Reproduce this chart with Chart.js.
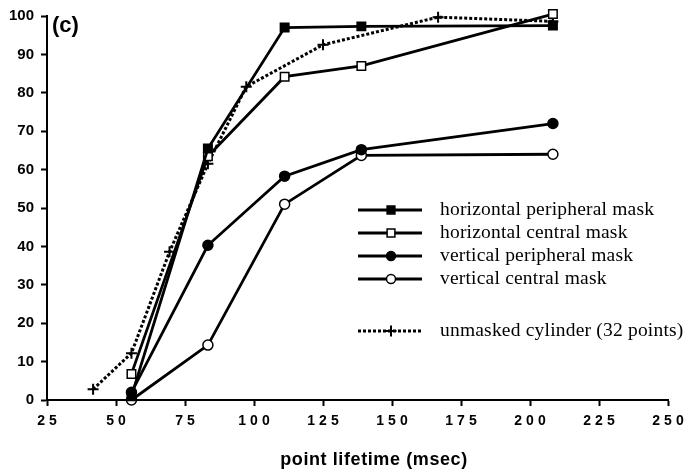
<!DOCTYPE html>
<html>
<head>
<meta charset="utf-8">
<script src="https://cdn.jsdelivr.net/npm/chart.js@4.4.1/dist/chart.umd.min.js"></script>
<style>
  html, body { margin: 0; padding: 0; background: #fff; }
  #wrap { width: 692px; height: 475px; }
</style>
</head>
<body>
<div id="wrap"><canvas id="chart" width="692" height="475"></canvas></div>
<script>
// point lifetimes (msec) for the masked conditions
const lifetimes = [55.6, 83.3, 111.1, 138.9, 208.3];
const horizPeripheral = [1, 65.5, 97, 97.3, 97.5];
const horizCentral = [6.8, 63.5, 84.2, 87, 100.5];
const vertPeripheral = [2, 40.3, 58.3, 65.2, 72];
const vertCentral = [0, 14.3, 51, 63.7, 64];

// unmasked cylinder was sampled at more lifetimes
const unmaskedLifetimes = [41.7, 55.6, 69.4, 83.3, 97.2, 125, 166.7, 208.3];
const unmasked = [2.8, 12.2, 38.6, 61.5, 81.6, 92.5, 99.7, 98.6];

const xTicks = [25, 50, 75, 100, 125, 150, 175, 200, 225, 250];
const legendLabels = [
    "horizontal peripheral mask",
    "horizontal central mask",
    "vertical peripheral mask",
    "vertical central mask",
    "unmasked cylinder (32 points)"
];

function toPoints(xs, ys) {
    return xs.map((x, i) => ({ x: x, y: ys[i] }));
}

const solid = {
    borderColor: "#000",
    borderWidth: 2.8,
    pointBorderColor: "#000",
    pointBorderWidth: 1.5,
    tension: 0,
    clip: false
};

const datasets = [
    Object.assign({}, solid, {
        label: legendLabels[0],
        data: toPoints(lifetimes, horizPeripheral),
        pointStyle: "rect", pointRadius: 6, pointBackgroundColor: "#000"
    }),
    Object.assign({}, solid, {
        label: legendLabels[1],
        data: toPoints(lifetimes, horizCentral),
        pointStyle: "rect", pointRadius: 6, pointBackgroundColor: "#fff"
    }),
    Object.assign({}, solid, {
        label: legendLabels[2],
        data: toPoints(lifetimes, vertPeripheral),
        pointStyle: "circle", pointRadius: 5, pointBackgroundColor: "#000"
    }),
    Object.assign({}, solid, {
        label: legendLabels[3],
        data: toPoints(lifetimes, vertCentral),
        pointStyle: "circle", pointRadius: 5, pointBackgroundColor: "#fff"
    }),
    Object.assign({}, solid, {
        label: legendLabels[4],
        data: toPoints(unmaskedLifetimes, unmasked),
        borderDash: [3, 2],
        borderWidth: 3,
        pointStyle: "cross", pointRadius: 5.5, pointBorderWidth: 2, pointBackgroundColor: "#000"
    })
];

// legend, panel letter, x tick labels and x title drawn by hand
const extras = {
    id: "extras",
    afterDraw(chart) {
        const ctx = chart.ctx;
        const xs = chart.scales.x;
        const bottom = chart.chartArea.bottom;

        ctx.save();
        ctx.fillStyle = "#000";
        ctx.textBaseline = "middle";

        // x tick labels with wide tracking
        ctx.font = "bold 14px 'Liberation Sans', Arial, sans-serif";
        ctx.letterSpacing = "4px";
        xTicks.forEach(v => {
            const s = String(v);
            const w = ctx.measureText(s).width - 4;
            ctx.textAlign = "left";
            ctx.fillText(s, xs.getPixelForValue(v) - w / 2, bottom + 21);
        });

        ctx.font = "bold 18px 'Liberation Sans', Arial, sans-serif";
        ctx.letterSpacing = "0.6px";
        ctx.textAlign = "center";
        ctx.fillText("point lifetime (msec)", 374, 460);
        ctx.letterSpacing = "0px";

        ctx.font = "bold 22px 'Liberation Sans', Arial, sans-serif";
        ctx.textAlign = "left";
        ctx.fillText("(c)", 52, 26);

        // legend rows
        const rowY = [210, 233, 256, 279, 331];
        ctx.font = "19.5px 'Liberation Serif', 'Times New Roman', serif";
        ctx.letterSpacing = "0.2px";
        chart.data.datasets.forEach((ds, i) => {
            const y = rowY[i];
            ctx.save();
            ctx.strokeStyle = "#000";
            ctx.lineWidth = ds.borderWidth;
            ctx.setLineDash(ds.borderDash || []);
            ctx.beginPath();
            ctx.moveTo(358, y);
            ctx.lineTo(422, y);
            ctx.stroke();
            ctx.restore();

            ctx.save();
            ctx.fillStyle = ds.pointBackgroundColor;
            ctx.strokeStyle = "#000";
            ctx.lineWidth = ds.pointBorderWidth;
            Chart.helpers.drawPoint(ctx, {
                pointStyle: ds.pointStyle,
                radius: ds.pointStyle === "cross" ? 5.5 : ds.pointStyle === "rect" ? 5.5 : 4.5,
                rotation: 0,
                borderWidth: ds.pointBorderWidth
            }, 391, y);
            ctx.restore();

            ctx.textAlign = "left";
            ctx.fillText(ds.label, 440, y);
        });
        ctx.restore();
    }
};

new Chart(document.getElementById("chart"), {
    type: "line",
    data: { datasets: datasets },
    options: {
        responsive: false,
        animation: false,
        layout: { padding: { left: 0, top: 14, right: 24, bottom: 0 } },
        plugins: {
            legend: { display: false },
            tooltip: { enabled: false }
        },
        scales: {
            x: {
                type: "linear",
                min: 25,
                max: 250,
                afterBuildTicks(scale) {
                    scale.ticks = xTicks.map(v => ({ value: v }));
                },
                afterFit(scale) { scale.height = 75; },
                ticks: { display: false },
                grid: {
                    drawOnChartArea: false,
                    drawTicks: true,
                    tickLength: 6,
                    tickWidth: 2,
                    tickColor: "#000"
                },
                border: { display: true, color: "#000", width: 2 }
            },
            y: {
                min: 0,
                max: 100,
                afterFit(scale) { scale.width = 47; },
                ticks: {
                    stepSize: 10,
                    padding: 7,
                    color: "#000",
                    font: { family: "'Liberation Sans', Arial, sans-serif", size: 15, weight: "bold" }
                },
                grid: {
                    drawOnChartArea: false,
                    drawTicks: true,
                    tickLength: 6,
                    tickWidth: 2,
                    tickColor: "#000"
                },
                border: { display: true, color: "#000", width: 2 }
            }
        }
    },
    plugins: [extras]
});
</script>
</body>
</html>
